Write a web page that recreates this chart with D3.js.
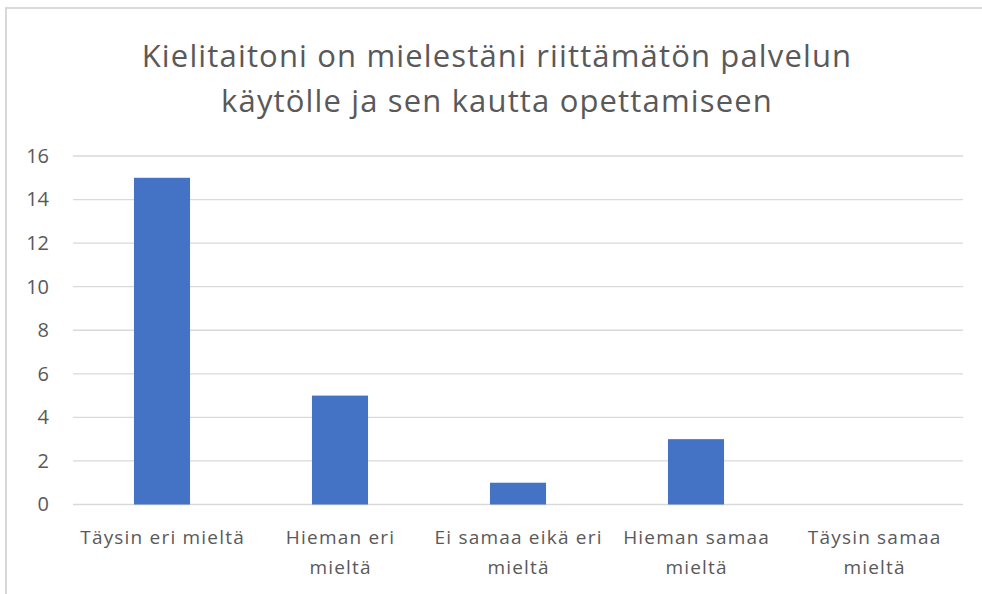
<!DOCTYPE html>
<meta charset="utf-8">
<head>
    <title>Kielitaito</title>
    <script src="https://cdn.jsdelivr.net/npm/d3@7"></script>
    <style>
        body { margin: 0; padding: 0; background: #fff; }
        text { font-family: "Open Sans", "Noto Sans", sans-serif; fill: #595959; }
    </style>
</head>
<body>
<script>
    // Data
    const categories = [
        ["Täysin eri mieltä"],
        ["Hieman eri", "mieltä"],
        ["Ei samaa eikä eri", "mieltä"],
        ["Hieman samaa", "mieltä"],
        ["Täysin samaa", "mieltä"]
    ];
    const values = [15, 5, 1, 3, 0];
    const yTicks = [0, 2, 4, 6, 8, 10, 12, 14, 16];
    const titleLines = ["Kielitaitoni on mielestäni riittämätön palvelun", "käytölle ja sen kautta opettamiseen"];

    const width = 982, height = 594;
    const margin = {top: 156, right: 20, bottom: 89.5, left: 73};
    const plotRight = 963;

    const svg = d3.select("body").append("svg")
        .attr("width", width)
        .attr("height", height);

    // chart frame
    svg.append("path")
        .attr("d", `M6,${height + 5} V8 H${width + 5}`)
        .attr("fill", "none")
        .attr("stroke", "#d9d9d9")
        .attr("stroke-width", 2);

    const x = d3.scaleBand()
        .domain(d3.range(categories.length))
        .range([margin.left, plotRight])
        .paddingInner(0.685)
        .paddingOuter(0.3425);

    const y = d3.scaleLinear()
        .domain([0, 16])
        .range([height - margin.bottom, margin.top]);

    // gridlines
    svg.append("g")
        .selectAll("line")
        .data(yTicks)
        .enter()
        .append("line")
        .attr("x1", margin.left)
        .attr("x2", plotRight)
        .attr("y1", d => y(d))
        .attr("y2", d => y(d))
        .attr("stroke", "#d9d9d9")
        .attr("stroke-width", 1.3);

    // y axis labels
    const yAxis = svg.append("g")
        .attr("transform", `translate(${margin.left - 24},0)`)
        .call(d3.axisLeft(y).tickValues(yTicks).tickSize(0).tickPadding(0));
    yAxis.select(".domain").remove();
    yAxis.selectAll("text")
        .style("font-size", "20px")
        .style("font-family", "'Open Sans', sans-serif")
        .attr("fill", "#595959");

    // bars
    svg.append("g")
        .selectAll("rect")
        .data(values)
        .enter()
        .append("rect")
        .attr("x", (d, i) => x(i))
        .attr("width", x.bandwidth())
        .attr("y", d => y(d))
        .attr("height", d => y(0) - y(d))
        .attr("fill", "#4472c4");

    // category labels (letter-spacing leaves a trailing gap, so nudge by half of it)
    const cat = svg.append("g")
        .selectAll("text")
        .data(categories)
        .enter()
        .append("text")
        .attr("text-anchor", "middle")
        .attr("font-size", 19)
        .attr("letter-spacing", 1.2);
    cat.each(function(lines, i) {
        d3.select(this).selectAll("tspan")
            .data(lines)
            .enter()
            .append("tspan")
            .attr("x", x(i) + x.bandwidth() / 2 + 0.6)
            .attr("y", (d, j) => 544 + j * 30)
            .text(d => d);
    });

    // title
    svg.append("g")
        .selectAll("text")
        .data(titleLines)
        .enter()
        .append("text")
        .attr("x", width / 2 + 6)
        .attr("y", (d, i) => 67 + i * 45)
        .attr("text-anchor", "middle")
        .attr("font-size", 31)
        .attr("letter-spacing", 1.15)
        .text(d => d);
</script>
</body>
</html>
